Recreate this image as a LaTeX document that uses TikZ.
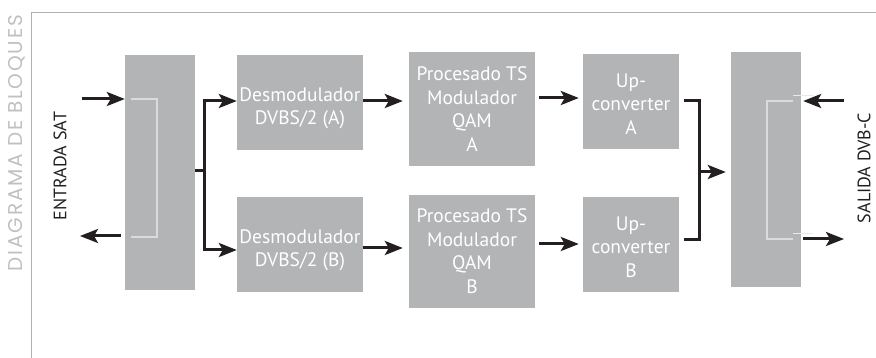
\documentclass[tikz,border=0pt]{standalone}
\usepackage{fontspec}
\setmainfont{PT Sans}
\newfontfamily\titlefont[LetterSpace=9]{Poppins}
\usetikzlibrary{arrows.meta}
\definecolor{boxgray}{RGB}{178,180,181}
\definecolor{brk}{RGB}{216,220,220}
\definecolor{ink}{RGB}{35,31,32}
\definecolor{framegray}{RGB}{175,175,175}
\definecolor{titlegray}{RGB}{190,192,193}
\tikzset{
  box/.style={fill=boxgray, draw=none, inner sep=0pt},
  lbl/.style={text=white, align=center, inner sep=0pt, font=\fontsize{19.5}{23.5}\selectfont},
  side/.style={text=ink, inner sep=0pt, rotate=90, font=\fontsize{18}{20}\selectfont},
  conn/.style={draw=ink, line width=3pt},
  arr/.style={conn, -{Stealth[length=18pt,width=14pt,inset=4pt]}},
  bracket/.style={draw=brk, line width=2pt},
  faint/.style={draw=brk!60, line width=0.8pt},
  frame/.style={draw=framegray, line width=1pt}
}
\begin{document}
\begin{tikzpicture}[x=1pt,y=-1pt]
\useasboundingbox (0,0) rectangle (876,358);
% frame
\coordinate (f1) at (876,13);
\coordinate (f2) at (31,13);
\coordinate (f3) at (31,358);
\draw[frame] (f1) -- (f2) -- (f3);
\node[side, text=titlegray, font=\titlefont\fontsize{20}{22}\selectfont] (title) at (17,143) {DIAGRAMA DE BLOQUES};
\node[side] (entrada) at (60,166) {ENTRADA SAT};
\node[side] (salida) at (864,168) {SALIDA DVB-C};
% blocks
\node[box, minimum width=70pt, minimum height=235pt] (L) at (160,172.5) {};
\node[box, minimum width=126pt, minimum height=95pt] (da) at (300,102.5) {};
\node[box, minimum width=126pt, minimum height=95pt] (db) at (300,244.5) {};
\node[box, minimum width=126pt, minimum height=114pt] (pa) at (472,109) {};
\node[box, minimum width=126pt, minimum height=113pt] (pb) at (472,251.5) {};
\node[box, minimum width=96pt, minimum height=95pt] (ua) at (631,101.5) {};
\node[box, minimum width=96pt, minimum height=95pt] (ub) at (631,244.5) {};
\node[box, minimum width=70pt, minimum height=235pt] (R) at (766,169.5) {};
% labels
\node[lbl] (tda) at (300,108) {Desmodulador\\DVBS/2 (A)};
\node[lbl] (tdb) at (300,250) {Desmodulador\\DVBS/2 (B)};
\node[lbl] (tpa) at (472,109) {Procesado TS\\Modulador\\QAM\\A};
\node[lbl] (tpb) at (472,251) {Procesado TS\\Modulador\\QAM\\B};
\node[lbl] (tua) at (631,104) {Up-\\converter\\A};
\node[lbl] (tub) at (631,247) {Up-\\converter\\B};
% brackets
\coordinate (lb1) at (131,99);
\coordinate (lb2) at (157,99);
\coordinate (lb3) at (157,237);
\coordinate (lb4) at (131,237);
\draw[bracket] (lb1) -- (lb2) -- (lb3) -- (lb4);
\coordinate (rb1) at (793,101);
\coordinate (rb2) at (767,101);
\coordinate (rb3) at (767,239);
\coordinate (rb4) at (793,239);
\draw[bracket] (rb1) -- (rb2) -- (rb3) -- (rb4);
\coordinate (rf1) at (793,95); \coordinate (rf2) at (813,95);
\coordinate (rf3) at (793,233); \coordinate (rf4) at (813,233);
\draw[faint] (rf1) -- (rf2);
\draw[faint] (rf3) -- (rf4);
% input/output arrows
\coordinate (inS) at (82,99);
\draw[arr] (inS) -- (L.west |- inS);
\coordinate (outE) at (80,236);
\draw[arr] (L.west |- outE) ++(-4,0) -- (outE);
\coordinate (rin) at (844,101);
\draw[arr] (rin) -- ([xshift=2pt]R.east |- rin);
\coordinate (rout) at (844,239);
\draw[arr] ([xshift=2pt]R.east |- rout) -- (rout);
% split
\coordinate (br) at (204,171);
\draw[conn] (L.east |- br) -- (br);
\draw[arr] ([yshift=-1.5pt]br) |- (da.west |- 0,101);
\draw[arr] ([yshift=1.5pt]br) |- (db.west |- 0,250);
% chains
\draw[arr] (da.east |- 0,101) -- ([xshift=-6pt]pa.west |- 0,101);
\draw[arr] (db.east |- 0,248) -- ([xshift=-6pt]pb.west |- 0,248);
\draw[arr] ([xshift=4pt]pa.east |- 0,98) -- ([xshift=-4pt]ua.west |- 0,98);
\draw[arr] ([xshift=4pt]pb.east |- 0,244) -- ([xshift=-4pt]ub.west |- 0,244);
% merge
\coordinate (mg) at (699,172);
\draw[conn] ([xshift=5pt]ua.east |- 0,101) -| (mg) |- ([xshift=5pt]ub.east |- 0,240);
\draw[arr] (mg) -- ([xshift=-5pt]R.west |- mg);
\end{tikzpicture}
\end{document}
